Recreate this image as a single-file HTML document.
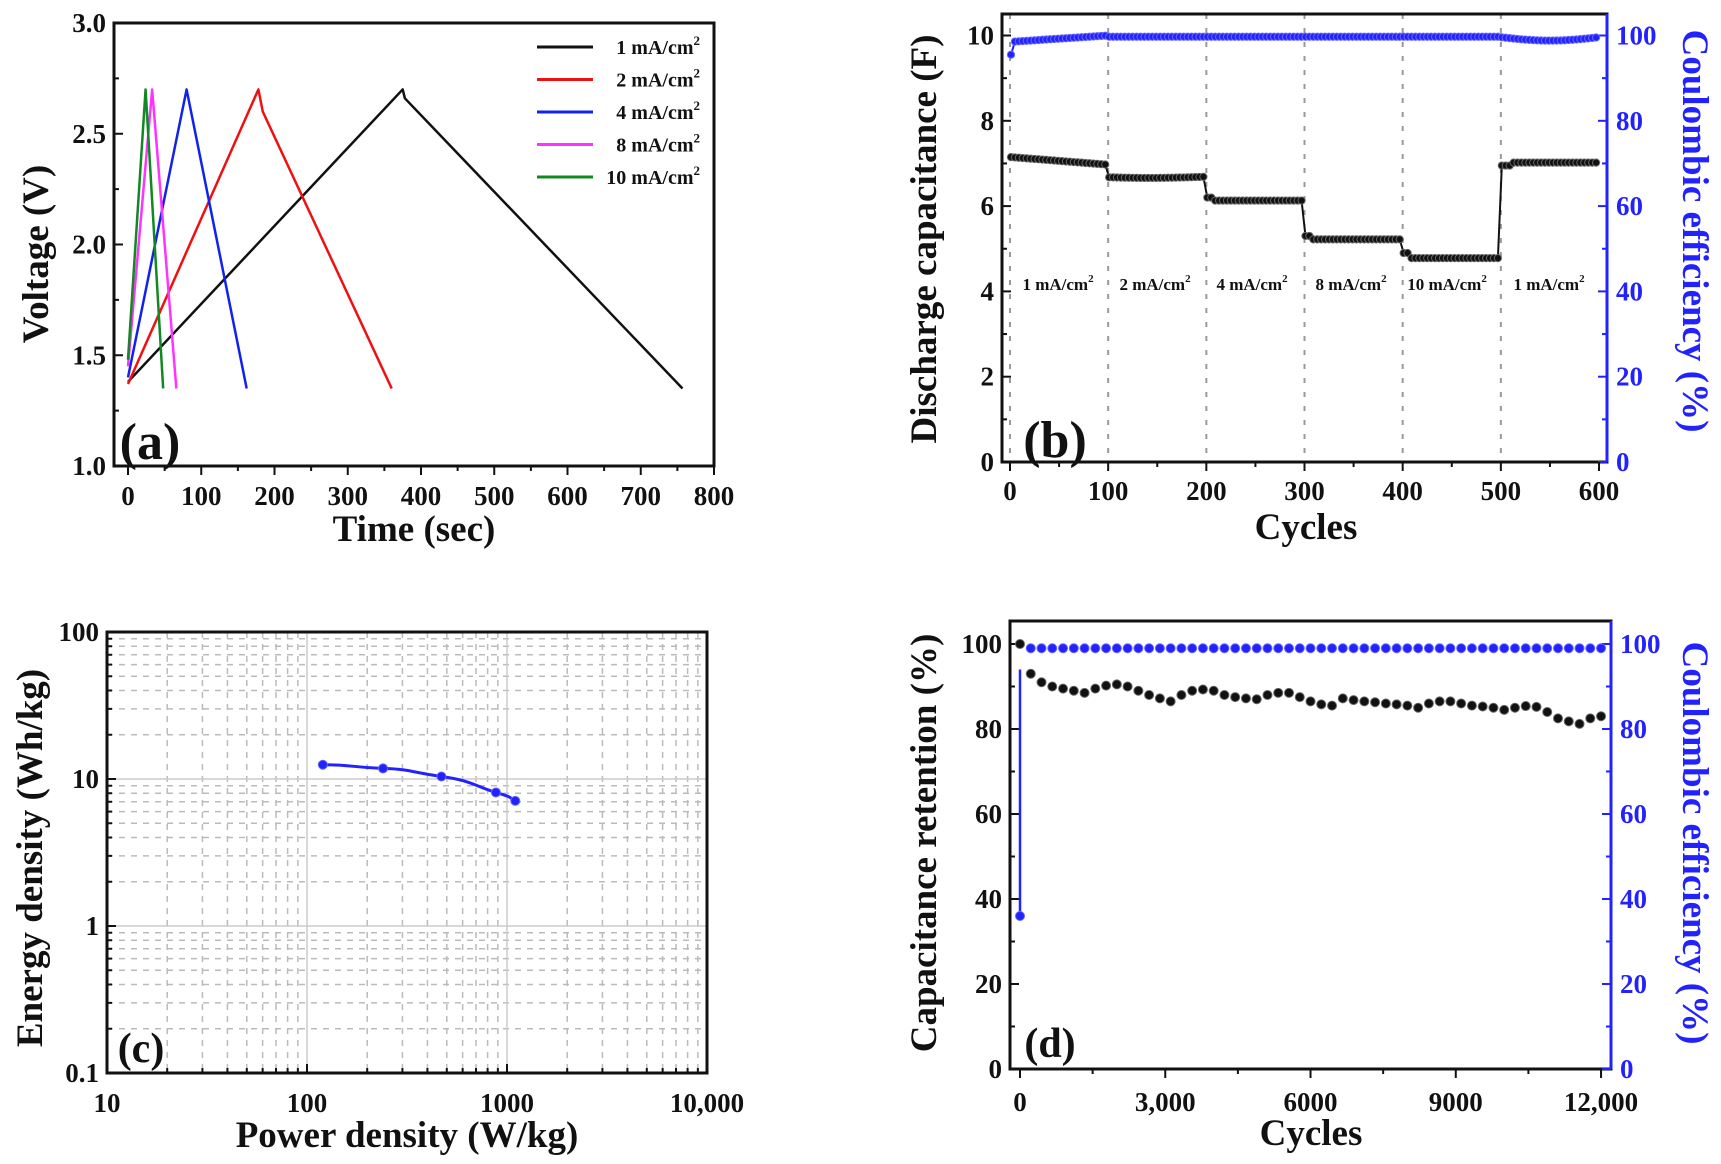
<!DOCTYPE html>
<html><head><meta charset="utf-8"><style>
html,body{margin:0;padding:0;background:#fff;overflow:hidden}
svg{display:block}
text{font-family:"Liberation Serif",serif;font-weight:bold}
</style></head><body>
<svg id="s" width="1721" height="1164" viewBox="0 0 1721 1164" xmlns="http://www.w3.org/2000/svg">
<rect width="1721" height="1164" fill="#fff"/>
</svg>
<script>
const S=document.getElementById('s');const NS='http://www.w3.org/2000/svg';
function el(t,a,txt){const e=document.createElementNS(NS,t);for(const k in a)e.setAttribute(k,a[k]);if(txt!==undefined)e.textContent=txt;S.appendChild(e);return e;}
function line(x1,y1,x2,y2,c,w,d){const a={x1,y1,x2,y2,stroke:c,'stroke-width':w};if(d)a['stroke-dasharray']=d;return el('line',a);}
function txt(x,y,s,sz,anchor,fill,rot){const a={x,y,'font-size':sz,'text-anchor':anchor||'middle',fill:fill||'#111'};if(rot)a.transform=`rotate(${rot} ${x} ${y})`;return el('text',a,s);}
function poly(pts,c,w){el('polyline',{points:pts.map(p=>p.join(',')).join(' '),fill:'none',stroke:c,'stroke-width':w,'stroke-linejoin':'round'});}
function dot(x,y,r,c){el('circle',{cx:x,cy:y,r,fill:c,stroke:c==='#111'?'#666':'#66f','stroke-width':1});}
function sup(t,dy,sz){const sp=document.createElementNS(NS,'tspan');sp.setAttribute('dy',dy);sp.setAttribute('font-size',sz);sp.textContent='2';t.appendChild(sp);}
const TK=27,TT=37;

// ===== Panel (a)
{const L=114,R=714,T=23,B=466;const X=t=>128+t*0.7325,Y=v=>B-(v-1)*221.5;
el('rect',{x:L,y:T,width:R-L,height:B-T,fill:'none',stroke:'#111','stroke-width':3});
for(let i=0;i<=8;i++){const v=1+i*0.25,y=Y(v);line(L,y,L+(i%2==0?9:5),y,'#111',2);}
[1,1.5,2,2.5,3].forEach(v=>txt(106,Y(v)+9,v.toFixed(1),TK,'end'));
for(let t=0;t<=800;t+=50){const x=X(t);line(x,B,x,B+(t%100==0?9:5),'#111',2);}
for(let t=0;t<=800;t+=100)txt(X(t),505,String(t),TK);
txt(414,541,'Time (sec)',TT);txt(48,254,'Voltage (V)',TT,'middle','#111',-90);
txt(150,459,'(a)',52);
const cur=[['#111',[[0,1.38],[375,2.7],[378,2.66],[757,1.35]]],['#e11',[[0,1.37],[178,2.7],[184,2.6],[360,1.35]]],['#12e',[[0,1.4],[80,2.7],[162,1.35]]],['#f3f',[[0,1.45],[33,2.7],[66,1.35]]],['#182',[[0,1.48],[24,2.7],[48,1.35]]]];
cur.forEach(c=>poly(c[1].map(p=>[X(p[0]),Y(p[1])]),c[0],2.5));
const lg=['1 mA/cm','2 mA/cm','4 mA/cm','8 mA/cm','10 mA/cm'];
lg.forEach((s,i)=>{const y=47+i*32.5;line(537,y,593,y,cur[i][0],3);const t=txt(700,y+7,s,20,'end');sup(t,-9,13);});
}

// ===== Panel (b)
{const L=1002,R=1607,T=14,B=462;const X=c=>1010+c*0.9817,Y=v=>B-v*42.65,Y2=p=>B-p*4.265;
for(let c=0;c<=500;c+=100)line(X(c),T,X(c),B,'#999',2,'5,9');
el('rect',{x:L,y:T,width:R-L,height:B-T,fill:'none',stroke:'#111','stroke-width':3});
line(R,T,R,B,'#22f',3);
for(let v=0;v<=10;v+=1){line(L,Y(v),L+(v%2==0?9:5),Y(v),'#111',2);}
for(let v=0;v<=10;v+=2)txt(994,Y(v)+9,String(v),TK,'end');
for(let p=0;p<=100;p+=10){line(R,Y2(p),R-(p%20==0?9:5),Y2(p),'#22f',2);}
for(let p=0;p<=100;p+=20)txt(1616,Y2(p)+9,String(p),TK,'start','#22f');
for(let c=0;c<=600;c+=50){line(X(c),B,X(c),B+(c%100==0?9:5),'#111',2);}
for(let c=0;c<=600;c+=100)txt(X(c),500,String(c),TK);
txt(1306,539,'Cycles',TT);txt(936,239,'Discharge capacitance (F)',TT,'middle','#111',-90);
txt(1683,231,'Coulombic efficiency (%)',TT,'middle','#22f',90);
txt(1055,457,'(b)',52);
const lab=['1 mA/cm','2 mA/cm','4 mA/cm','8 mA/cm','10 mA/cm','1 mA/cm'];const cx=[1058,1155,1252,1351,1447,1549];
lab.forEach((s,i)=>{const t=txt(cx[i],290,s,17);sup(t,-8,11);});
function cap(c){if(c<=100)return 7.15-0.18*c/100;if(c<=200)return 6.68+0.02*Math.sin(c/30);if(c<=300)return c<206?6.2:6.13;if(c<=400)return c<306?5.3:5.22;if(c<=500)return c<406?4.9:4.78;return c<512?6.95:7.02;}
function ce(c){if(c<3)return 95.5;if(c<=100)return 98.5+1.5*c/100;if(c<=500)return 99.7;return 99.6-0.8*Math.sin(Math.PI*(c-500)/100);}
const pc=[],pe=[];for(let c=1;c<=600;c+=4){pc.push([X(c),Y(cap(c))]);pe.push([X(c),Y2(ce(c))]);}
poly(pc,'#111',2);poly(pe,'#22f',2);
for(let c=1;c<=600;c+=4){dot(X(c),Y(cap(c)),3.6,'#111');dot(X(c),Y2(ce(c)),3.6,'#22f');}
}

// ===== Panel (c)
{const L=107,R=707,T=632,B=1073;const X=p=>L+(Math.log10(p)-1)*200,Y=e=>B-(Math.log10(e)+1)*147;
for(let d=1;d<=3;d++)for(let m=2;m<=9;m++){line(X(m*10**d),T,X(m*10**d),B,'#bbb',1.5,'6,6');}
for(let d=-1;d<=1;d++)for(let m=2;m<=9;m++){line(L,Y(m*10**d),R,Y(m*10**d),'#bbb',1.5,'6,6');}
[100,1000].forEach(p=>line(X(p),T,X(p),B,'#ccc',1.5));[1,10].forEach(e=>line(L,Y(e),R,Y(e),'#ccc',1.5));
el('rect',{x:L,y:T,width:R-L,height:B-T,fill:'none',stroke:'#111','stroke-width':3});
for(let d=1;d<=3;d++)for(let m=1;m<=10;m++){const x=X(m*10**d);line(x,B,x,B-(m==1||m==10?9:5),'#111',2);}
for(let d=-1;d<=1;d++)for(let m=1;m<=10;m++){const y=Y(m*10**d);line(L,y,L+(m==1||m==10?9:5),y,'#111',2);}
[['0.1',0.1],['1',1],['10',10],['100',100]].forEach(a=>txt(99,Y(a[1])+9,a[0],TK,'end'));
[['10',10],['100',100],['1000',1000],['10,000',10000]].forEach(a=>txt(X(a[1]),1112,a[0],TK));
txt(407,1147,'Power density (W/kg)',TT);txt(42,858,'Energy density (Wh/kg)',TT,'middle','#111',-90);
txt(141,1062,'(c)',42);
const d=[[120,12.5],[240,11.8],[470,10.4],[880,8.1],[1100,7.1]].map(p=>[X(p[0]),Y(p[1])]);
el('path',{d:`M${d[0]} C${d[0][0]+30},${d[0][1]} ${d[1][0]-30},${d[1][1]-1} ${d[1]} S${d[2][0]-30},${d[2][1]-4} ${d[2]} S${d[3][0]-20},${d[3][1]-6} ${d[3]} S${d[4][0]-8},${d[4][1]-4} ${d[4]}`,fill:'none',stroke:'#22f','stroke-width':3});
d.forEach(p=>dot(p[0],p[1],4.5,'#22f'));
}

// ===== Panel (d)
{const L=1010,R=1611,T=621,B=1069;const X=c=>1020+c*0.04842,Y=v=>B-v*4.25;
el('rect',{x:L,y:T,width:R-L,height:B-T,fill:'none',stroke:'#111','stroke-width':3});
line(R,T,R,B,'#22f',3);
for(let v=0;v<=100;v+=10){line(L,Y(v),L+(v%20==0?9:5),Y(v),'#111',2);line(R,Y(v),R-(v%20==0?9:5),Y(v),'#22f',2);}
for(let v=0;v<=100;v+=20){txt(1002,Y(v)+9,String(v),TK,'end');txt(1620,Y(v)+9,String(v),TK,'start','#22f');}
for(let c=0;c<=12000;c+=1500){line(X(c),B,X(c),B+(c%3000==0?9:5),'#111',2);}
[['0',0],['3,000',3000],['6000',6000],['9000',9000],['12,000',12000]].forEach(a=>txt(X(a[1]),1111,a[0],TK));
txt(1311,1145,'Cycles',TT);txt(936,843,'Capacitance retention (%)',TT,'middle','#111',-90);
txt(1683,843,'Coulombic efficiency (%)',TT,'middle','#22f',90);
txt(1050,1057,'(d)',42);
const r=[100,93,91,90,89.5,89,88.5,89.5,90.2,90.5,90,89,88,87.2,86.5,88,89,89.3,89,88,87.5,87.2,87,88,88.5,88.5,87.5,86.5,85.8,85.5,87.2,86.8,86.5,86.3,86,85.8,85.5,85,86,86.5,86.5,86,85.5,85.3,85,84.5,85,85.4,85.2,84,82.5,81.8,81.2,82.5,83];
const step=12000/(r.length-1);
line(X(0),Y(36),X(0),Y(94),'#22f',2.5);
r.forEach((v,i)=>{dot(X(i*step),Y(v),4.5,'#111');});
for(let i=1;i<r.length;i++)dot(X(i*step),Y(99),4.5,'#22f');
dot(X(0),Y(36),4.5,'#22f');
}
</script>
</body></html>
